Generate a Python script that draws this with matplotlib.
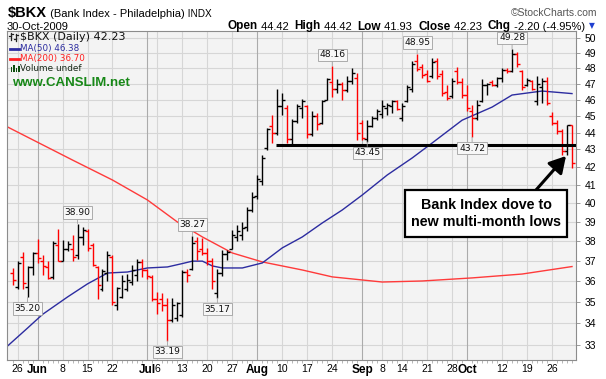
import matplotlib
matplotlib.use('Agg')
import matplotlib.pyplot as plt
import numpy as np
from matplotlib.ticker import FixedLocator, FixedFormatter, NullLocator
from matplotlib.patches import Rectangle
from matplotlib.lines import Line2D

plt.rcParams['font.family'] = ['DejaVu Sans']

W, H = 606, 379

# ---------------- data (daily OHLC, $BKX, 22-May-2009 .. 30-Oct-2009) ----------------
opens = [36.40, 35.70, 37.20, 35.70, 36.70, 37.40, 37.00, 36.70, 36.20, 37.80,
         37.00, 37.60, 37.60, 37.30, 38.20, 38.50, 37.80, 36.70, 35.60, 36.40,
         37.20, 34.85, 35.20, 35.60, 35.95, 36.30, 36.95, 36.55, 36.20, 35.10,
         35.10, 34.85, 34.15, 34.25, 34.35, 36.45, 36.60, 38.00, 37.60, 37.40,
         37.00, 35.40, 36.40, 37.35, 37.60, 38.20, 38.30, 38.70, 39.60, 40.40,
         41.20, 43.10, 44.40, 44.00, 45.60, 45.50, 43.60, 44.70, 45.50, 45.60,
         43.90, 45.00, 44.60, 46.00, 47.10, 46.70, 47.00, 46.60, 47.20, 47.40,
         44.60, 43.60, 44.40, 44.90, 45.10, 45.50, 45.60, 45.90, 44.90, 45.90,
         46.70, 48.50, 48.10, 47.60, 47.50, 48.50, 47.60, 46.50, 46.20, 47.80,
         47.10, 46.30, 45.30, 44.90, 45.90, 46.90, 47.10, 46.90, 47.35, 47.90,
         47.80, 48.90, 47.80, 46.90, 47.20, 45.90, 46.80, 47.20, 45.00, 44.60,
         44.10, 42.90, 44.42]
highs = [36.64, 37.00, 37.44, 36.74, 37.44, 38.10, 37.30, 37.00, 38.00, 38.60,
         38.05, 38.00, 38.30, 38.90, 38.70, 38.60, 37.90, 36.75, 36.60, 37.50,
         37.30, 35.70, 36.30, 36.35, 36.80, 37.10, 37.10, 36.60, 36.30, 35.45,
         35.40, 35.15, 35.15, 35.00, 36.55, 36.60, 38.27, 38.20, 38.15, 37.65,
         37.15, 36.60, 37.55, 37.55, 38.57, 38.80, 39.00, 39.80, 40.60, 41.55,
         42.70, 44.25, 45.05, 46.70, 46.40, 45.65, 44.80, 45.75, 46.05, 45.70,
         45.30, 45.20, 46.00, 47.40, 48.16, 47.30, 47.10, 47.50, 48.00, 47.70,
         44.75, 44.75, 45.00, 45.40, 46.00, 45.80, 45.98, 45.98, 45.80, 46.90,
         48.50, 48.95, 48.30, 47.90, 48.70, 48.70, 47.90, 46.95, 47.40, 48.10,
         47.35, 46.90, 45.67, 45.98, 47.30, 47.05, 47.25, 47.45, 48.00, 48.00,
         49.28, 49.05, 47.90, 47.35, 47.25, 47.50, 47.40, 47.45, 45.25, 44.75,
         44.20, 44.45, 44.42]
lows = [35.81, 35.60, 35.62, 35.20, 36.30, 36.90, 36.30, 36.10, 36.10, 37.00,
        37.00, 37.50, 37.00, 37.10, 37.80, 37.50, 36.75, 35.10, 35.50, 36.00,
        34.85, 34.60, 35.15, 35.50, 35.80, 36.00, 36.20, 36.10, 35.05, 34.40,
        34.55, 33.19, 34.05, 34.10, 34.30, 35.95, 36.55, 37.05, 37.30, 36.80,
        35.60, 35.17, 36.25, 37.05, 37.60, 38.00, 38.05, 38.50, 39.50, 40.20,
        40.98, 42.97, 43.40, 43.85, 45.05, 43.40, 43.35, 44.55, 44.90, 43.70,
        43.80, 44.15, 44.50, 46.00, 46.15, 46.40, 46.00, 46.50, 47.00, 43.56,
        43.56, 43.45, 44.30, 44.75, 44.90, 45.05, 45.20, 45.35, 44.70, 45.85,
        46.45, 47.80, 47.40, 47.10, 47.40, 47.30, 46.20, 45.95, 46.10, 47.00,
        46.10, 45.30, 43.72, 44.75, 45.85, 46.30, 46.85, 46.80, 47.10, 47.70,
        47.75, 48.10, 46.60, 46.85, 46.60, 45.70, 45.80, 45.67, 44.45, 43.90,
        42.70, 42.70, 41.93]
closes = [36.05, 36.90, 35.90, 36.70, 37.40, 37.15, 36.75, 36.15, 37.90, 37.00,
          37.60, 37.85, 37.20, 38.20, 38.55, 37.65, 36.80, 35.80, 36.50, 37.30,
          35.00, 35.65, 36.00, 36.05, 36.55, 36.95, 36.55, 36.25, 35.10, 34.95,
          34.85, 34.15, 34.85, 34.95, 36.45, 36.30, 37.90, 37.50, 37.40, 37.00,
          36.00, 36.40, 37.35, 37.45, 38.30, 38.50, 38.65, 39.60, 40.30, 41.30,
          42.50, 44.20, 43.95, 45.60, 45.95, 43.60, 44.70, 45.60, 45.90, 43.90,
          45.00, 44.50, 45.90, 47.30, 46.65, 47.00, 46.60, 47.20, 47.70, 44.00,
          43.70, 44.40, 44.90, 45.30, 45.60, 45.70, 45.90, 45.45, 45.60, 46.80,
          48.30, 47.95, 47.55, 47.20, 48.40, 47.50, 46.40, 46.10, 47.20, 47.10,
          46.30, 45.50, 44.90, 45.70, 46.90, 47.00, 46.90, 47.35, 47.90, 47.80,
          48.90, 48.30, 46.80, 47.25, 46.70, 47.00, 47.20, 45.80, 44.60, 44.10,
          42.90, 44.43, 42.23]

# moving averages (at selected bars)
ma50_idx = [-1, 3, 6, 11, 15, 19, 23, 27, 31, 34, 36, 38, 40, 42, 46, 50, 54, 58,
            62, 66, 70, 75, 80, 84, 90, 96, 100, 106, 112]
ma50_val = [32.96, 33.77, 34.40, 35.22, 35.85, 36.38, 36.43, 36.63, 36.68, 36.85,
            36.97, 36.97, 36.73, 36.63, 36.63, 36.88, 37.64, 38.20, 38.93, 39.62,
            40.43, 41.54, 42.51, 43.38, 44.74, 45.54, 46.29, 46.54, 46.38]
ma200_idx = [-1, 12, 20, 27, 33, 38, 44, 50, 58, 64, 74, 82, 92, 102, 112]
ma200_val = [44.33, 42.39, 41.26, 40.16, 38.98, 38.20, 37.38, 36.93, 36.53, 36.19,
             35.94, 35.99, 36.14, 36.33, 36.70]

support_level = 43.26
support_start = 52.8

# labelled extremes: (bar index, 'high' or 'low')
marked = [(3, 'low'), (13, 'high'), (31, 'low'), (36, 'high'), (41, 'low'),
          (64, 'high'), (71, 'low'), (81, 'high'), (92, 'low'), (100, 'high')]

day_ticks = [1, 10, 15, 20, 29, 34, 39, 44, 54, 59, 64, 74, 78, 83, 88, 98, 103, 108]
day_labels = ['26', '8', '15', '22', '6', '13', '20', '27', '10', '17', '24', '8',
              '14', '21', '28', '12', '19', '26']
month_ticks = [5, 27, 49, 70, 91]
month_labels = ['Jun', 'Jul', 'Aug', 'Sep', 'Oct']

price_ticks = list(range(33, 51))

# ---------------- figure ----------------
fig = plt.figure(figsize=(W / 100, H / 100), dpi=100)
fig.patch.set_facecolor('white')

def fx(x):
    return x / W

def fy(y):
    return 1 - y / H

ax = fig.add_axes([7 / W, 19 / H, 569 / W, 329 / H])
ax.set_facecolor('#f3f3f3')
ax.set_yscale('log')
ax.set_xlim(-1.12, 112.8)
ax.set_ylim(32.34, 50.48)

# grid
for v in price_ticks:
    ax.axhline(v, color='#d6d6d6', lw=0.8, zorder=0)
for t in day_ticks:
    ax.axvline(t, color='#d6d6d6', lw=0.8, zorder=0)
for t in month_ticks:
    ax.axvline(t, color='#ababab', lw=0.8, zorder=0)

# moving averages
ax.plot(ma200_idx, ma200_val, color='#ff3a3a', lw=1.0, zorder=2)
ax.plot(ma50_idx, ma50_val, color='#2c2ca0', lw=1.0, zorder=2)

# OHLC bars
xs = np.arange(len(closes))
prev = [opens[0]] + closes[:-1]
cols = ['#ff0000' if c < p else '#000000' for c, p in zip(closes, prev)]
ax.vlines(xs, lows, highs, colors=cols, lw=1.0, zorder=3)
ax.hlines(opens, xs - 0.6, xs, colors=cols, lw=1.0, zorder=3)
ax.hlines(closes, xs, xs + 0.6, colors=cols, lw=1.0, zorder=3)

# support line
ax.hlines(support_level, support_start, 112.8, colors='black', lw=2.2, zorder=4)

# value labels
for idx, kind in marked:
    if kind == 'high':
        yv, off = highs[idx], 8.0
    else:
        yv, off = lows[idx], -8.0
    ax.annotate(f'{yv:.2f}', xy=(idx, yv), xytext=(0, off), textcoords='offset points',
                ha='center', va='center', fontsize=6.6, color='#111111',
                bbox=dict(boxstyle='square,pad=0.18', fc='#f7f7f7', ec='#a0a0a0', lw=0.6),
                arrowprops=dict(arrowstyle='-', color='#a0a0a0', lw=0.6,
                                shrinkA=0, shrinkB=0), zorder=6)

# axes styling
for s in ax.spines.values():
    s.set_color('#8c8c8c')
    s.set_linewidth(0.8)
ax.yaxis.tick_right()
ax.yaxis.set_major_locator(FixedLocator(price_ticks))
ax.yaxis.set_major_formatter(FixedFormatter([str(v) for v in price_ticks]))
ax.yaxis.set_minor_locator(NullLocator())
ax.tick_params(axis='y', which='major', length=3, width=0.6, pad=3.5, color='#8c8c8c',
               labelsize=7.5, labelcolor='black')
for lab in ax.get_yticklabels():
    lab.set_family('Liberation Sans')

all_ticks = day_ticks + month_ticks
all_labels = day_labels + month_labels
ax.set_xticks(all_ticks)
ax.set_xticklabels(all_labels)
ax.xaxis.set_minor_locator(FixedLocator(list(xs)))
ax.tick_params(axis='x', which='major', length=0, pad=3, labelsize=7.5)
ax.tick_params(axis='x', which='minor', length=2, width=0.5, color='#9a9a9a')
for lab in ax.get_xticklabels():
    lab.set_family('Liberation Sans')
    if lab.get_text() in month_labels:
        lab.set_fontweight('bold')
        lab.set_fontsize(8.5)

# ---------------- header texts ----------------
renderer = fig.canvas.get_renderer()

def row(pieces, x0, ybase, align='left'):
    texts = []
    widths = []
    for s, kw in pieces:
        t = fig.text(0, fy(ybase), s, va='baseline', ha='left', **kw)
        texts.append(t)
        widths.append(t.get_window_extent(renderer).width)
    total = sum(widths)
    x = x0 if align == 'left' else x0 - total
    for t, w in zip(texts, widths):
        t.set_x(fx(x))
        x += w

row([('$BKX', dict(fontsize=10.5, fontweight='bold', family='Liberation Sans')),
     (' (Bank Index - Philadelphia)', dict(fontsize=8, family='Liberation Sans')),
     (' INDX', dict(fontsize=7.2, family='Liberation Sans'))], 8, 17)

fig.text(fx(597), fy(16), '\u00a9StockCharts.com', ha='right', va='baseline',
         fontsize=7.5, color='#555555', family='Liberation Sans')
fig.text(fx(7), fy(29.5), '30-Oct-2009', ha='left', va='baseline', fontsize=8,
         family='Liberation Sans')

B = dict(fontsize=8.5, fontweight='bold', family='Liberation Sans')
R = dict(fontsize=8, family='Liberation Sans')
row([('Open', B), (' 44.42  ', R), ('High', B), (' 44.42  ', R), ('Low', B),
     (' 41.93  ', R), ('Close', B), (' 42.23  ', R), ('Chg', B), (' -2.20 (-4.95%)', R)],
    585, 29.5, align='right')
fig.text(fx(592), fy(26), '\u25bc', ha='center', va='center', fontsize=5.5, color='#2040d0')

# ---------------- in-plot legend ----------------
def fline(x0, x1, y0, y1, **kw):
    fig.add_artist(Line2D([fx(x0), fx(x1)], [fy(y0), fy(y1)], transform=fig.transFigure, **kw))

# ohlc icon
fline(11, 11, 33, 40, color='#222222', lw=0.9)
fline(9, 11, 36, 36, color='#222222', lw=0.9)
fline(11, 13, 34, 34, color='#222222', lw=0.9)
fline(16, 16, 34, 41, color='#222222', lw=0.9)
fline(14, 16, 39, 39, color='#222222', lw=0.9)
fline(16, 18, 35, 35, color='#222222', lw=0.9)
fig.text(fx(20.5), fy(37), '$BKX (Daily) 42.23', ha='left', va='center', fontsize=8,
         color='#111111')

fline(10, 19, 48.5, 48.5, color='#2c2ca0', lw=2.0)
fig.text(fx(20.5), fy(48.5), 'MA(50) 46.38', ha='left', va='center', fontsize=6.3,
         color='#2c2ca0')
fline(10, 19, 58.5, 58.5, color='#ff2020', lw=2.0)
fig.text(fx(20.5), fy(58.5), 'MA(200) 36.70', ha='left', va='center', fontsize=6.3,
         color='#ff2020')
for bx, bh in [(10.5, 5), (13, 7), (15.5, 4), (18, 6)]:
    fig.add_artist(Rectangle((fx(bx), fy(72)), 1.8 / W, bh / H, transform=fig.transFigure,
                             color='#0b4d0b', lw=0))
fig.text(fx(20.5), fy(68.5), 'Volume undef', ha='left', va='center', fontsize=6.4,
         color='#1a2a1a')
fig.text(fx(12.5), fy(83.5), 'www.CANSLIM.net', ha='left', va='center', fontsize=9.5,
         fontweight='bold', color='#188818', family='Liberation Sans')

# ---------------- callout ----------------
fig.add_artist(Rectangle((fx(405), fy(237)), 162 / W, 47 / H, transform=fig.transFigure,
                         fc='white', ec='black', lw=1.6, zorder=10))
fig.text(fx(486), fy(213.5), 'Bank Index dove to\nnew multi-month lows', ha='center',
         va='center', fontsize=10.3, fontweight='bold', family='Liberation Sans',
         linespacing=1.25, zorder=11)
ax.annotate('', xy=(566, H - 156), xycoords='figure pixels', xytext=(536, H - 190),
            textcoords='figure pixels',
            arrowprops=dict(arrowstyle='-|>,head_length=0.7,head_width=0.4', lw=2.2,
                            color='black', mutation_scale=14, shrinkA=0, shrinkB=0),
            zorder=12, annotation_clip=False)

fig.savefig('out.png', dpi=100)
